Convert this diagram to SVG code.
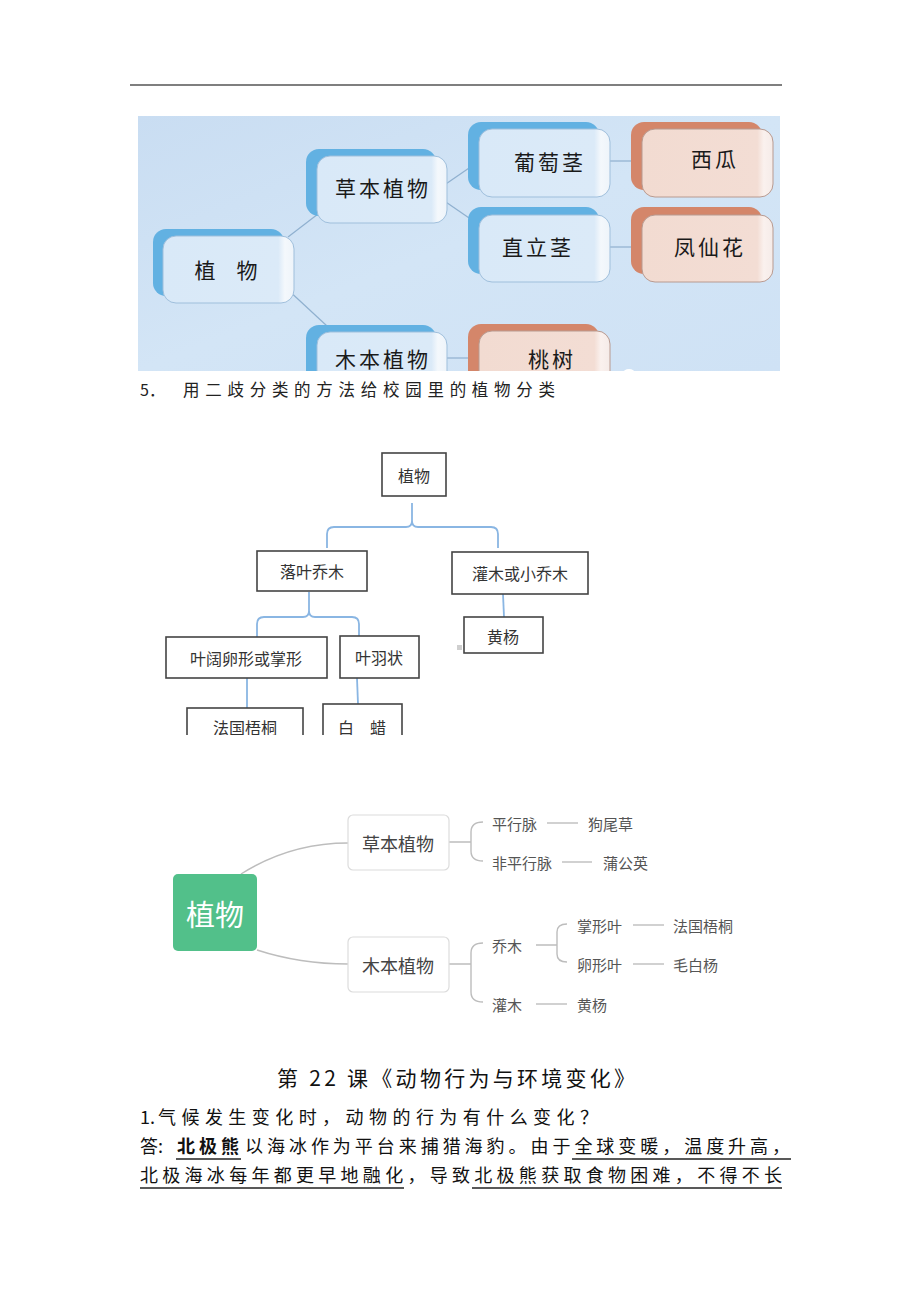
<svg xmlns="http://www.w3.org/2000/svg" width="920" height="1302" viewBox="0 0 920 1302">
<style>
text{font-family:"Noto Sans CJK SC","Noto Sans",sans-serif;}
.t1{font-size:21px;fill:#1a1a1a;text-anchor:middle;dominant-baseline:central;letter-spacing:3px;}
.bsh{fill:#62b1e2;}
.rsh{fill:#d4866a;}
.bface{fill:url(#bface);stroke:#9fbfdc;stroke-width:1;}
.rface{fill:url(#rface);stroke:#b89a90;stroke-width:1;}
.tc{stroke:#8fb0cf;stroke-width:1.2;fill:none;}
.mbox{fill:#fff;stroke:#444;stroke-width:1.6;}
.mt{font-size:16px;fill:#333;text-anchor:middle;dominant-baseline:central;}
.mc{stroke:#8ab6e3;stroke-width:1.8;fill:none;}
.bbox{fill:#fff;stroke:#dcdcdc;stroke-width:1.2;}
.bt{font-size:18px;fill:#444;text-anchor:middle;dominant-baseline:central;}
.st{font-size:15px;fill:#555;dominant-baseline:central;}
.bc{stroke:#bdbdbd;stroke-width:1.4;fill:none;}
.body{font-size:18px;fill:#111;}
.ul{stroke:#222;stroke-width:1.3;}
</style>
<defs>
<linearGradient id="bg" x1="0" y1="0" x2="1" y2="1">
<stop offset="0" stop-color="#c9ddf2"/>
<stop offset="0.5" stop-color="#d3e5f6"/>
<stop offset="1" stop-color="#cfe2f5"/>
</linearGradient>
<linearGradient id="bface" x1="0" y1="0" x2="1" y2="0">
<stop offset="0" stop-color="#d9e9f8"/>
<stop offset="0.88" stop-color="#dbeaf8"/>
<stop offset="0.93" stop-color="#f4f8fc"/>
<stop offset="1" stop-color="#eef4fa"/>
</linearGradient>
<linearGradient id="rface" x1="0" y1="0" x2="1" y2="0">
<stop offset="0" stop-color="#f2dbd1"/>
<stop offset="0.88" stop-color="#f3ddd4"/>
<stop offset="0.93" stop-color="#faf1ee"/>
<stop offset="1" stop-color="#f5ebe8"/>
</linearGradient>
<clipPath id="clipTop"><rect x="138" y="116" width="642" height="255"/></clipPath>
<clipPath id="clipMid"><rect x="140" y="440" width="480" height="295"/></clipPath>
</defs>
<rect width="920" height="1302" fill="#fff"/>
<line x1="130" y1="85" x2="782" y2="85" stroke="#555" stroke-width="1.6"/>

<!-- top diagram -->
<g clip-path="url(#clipTop)">
<rect x="138" y="116" width="642" height="255" fill="url(#bg)"/>
<g id="top-connectors">
<line class="tc" x1="288" y1="237" x2="318" y2="214"/>
<line class="tc" x1="286" y1="288" x2="327" y2="326"/>
<line class="tc" x1="440" y1="188" x2="472" y2="166"/>
<line class="tc" x1="440" y1="198" x2="472" y2="220"/>
<line class="tc" x1="600" y1="161" x2="632" y2="161"/>
<line class="tc" x1="600" y1="247" x2="632" y2="247"/>
<line class="tc" x1="437" y1="358" x2="469" y2="358"/>
</g>
<g id="t-plant"><rect class="bsh" x="153" y="229" width="131" height="67" rx="13"/><rect class="bface" x="163" y="236" width="131" height="67" rx="13"/><text class="t1" x="226" y="269" style="letter-spacing:0">植　物</text></g>
<g id="t-herb"><rect class="bsh" x="306" y="149" width="130" height="67" rx="13"/><rect class="bface" x="317" y="156" width="130" height="67" rx="13"/><text class="t1" x="383" y="187">草本植物</text></g>
<g id="t-vine"><rect class="bsh" x="468" y="122" width="131" height="68" rx="13"/><rect class="bface" x="479" y="129" width="131" height="68" rx="13"/><text class="t1" x="550" y="161">葡萄茎</text></g>
<g id="t-erect"><rect class="bsh" x="468" y="207" width="131" height="67" rx="13"/><rect class="bface" x="479" y="215" width="131" height="67" rx="13"/><text class="t1" x="538" y="246">直立茎</text></g>
<g id="t-melon"><rect class="rsh" x="631" y="122" width="131" height="68" rx="13"/><rect class="rface" x="642" y="129" width="131" height="68" rx="13"/><text class="t1" x="715" y="158">西瓜</text></g>
<g id="t-balsam"><rect class="rsh" x="631" y="207" width="131" height="67" rx="13"/><rect class="rface" x="642" y="215" width="131" height="67" rx="13"/><text class="t1" x="710" y="246">凤仙花</text></g>
<g id="t-wood"><rect class="bsh" x="306" y="325" width="130" height="67" rx="13"/><rect class="bface" x="317" y="332" width="130" height="67" rx="13"/><text class="t1" x="383" y="358">木本植物</text></g>
<g id="t-peach"><rect class="rsh" x="468" y="324" width="131" height="67" rx="13"/><rect class="rface" x="479" y="331" width="131" height="67" rx="13"/><text class="t1" x="552" y="358">桃树</text></g>
<ellipse cx="629" cy="373" rx="6" ry="4" fill="#fff"/>
</g>

<text x="140" y="396" style="font-size:16px;fill:#222">5．</text>
<text x="183" y="396" textLength="372" lengthAdjust="spacing" style="font-size:16.5px;fill:#222">用二歧分类的方法给校园里的植物分类</text>

<!-- middle diagram -->
<g clip-path="url(#clipMid)">
<g id="mid-connectors">
<path class="mc" d="M412,503 L412,521 Q412,527 406,527 L334,527 Q327,527 327,534 L327,548 M412,521 Q412,527 418,527 L491,527 Q498,527 498,534 L498,548"/>
<path class="mc" d="M309,592 L309,611 Q309,617 303,617 L264,617 Q257,617 257,624 L257,637 M309,611 Q309,617 315,617 L352,617 Q359,617 359,624 L359,636"/>
<line class="mc" x1="503" y1="594" x2="504" y2="617"/>
<line class="mc" x1="247" y1="678" x2="247" y2="708"/>
<line class="mc" x1="357" y1="678" x2="358" y2="704"/>
</g>
<g id="m-plant"><rect class="mbox" x="382" y="453" width="64" height="43"/><text class="mt" x="414" y="475">植物</text></g>
<g id="m-decid"><rect class="mbox" x="257" y="551" width="110" height="40"/><text class="mt" x="312" y="571">落叶乔木</text></g>
<g id="m-shrub"><rect class="mbox" x="452" y="552" width="136" height="42"/><text class="mt" x="520" y="573">灌木或小乔木</text></g>
<g id="m-broad"><rect class="mbox" x="166" y="637" width="161" height="41"/><text class="mt" x="246" y="658">叶阔卵形或掌形</text></g>
<g id="m-pinnate"><rect class="mbox" x="340" y="636" width="79" height="42"/><text class="mt" x="379" y="657">叶羽状</text></g>
<g id="m-box"><rect class="mbox" x="464" y="617" width="79" height="36"/><text class="mt" x="503" y="636">黄杨</text></g>
<g id="m-plane"><rect class="mbox" x="187" y="708" width="116" height="40"/><text class="mt" x="245" y="727">法国梧桐</text></g>
<g id="m-ash"><rect class="mbox" x="323" y="704" width="79" height="44"/><text class="mt" x="362" y="727">白　蜡</text></g>
<rect x="457" y="645" width="5" height="5" fill="#cfcfcf"/>
</g>

<!-- bottom mind map -->
<g id="b-connectors">
<path class="bc" d="M241,874 Q290,843 348,843"/>
<path class="bc" d="M257,950 Q300,964 348,964"/>
<path class="bc" d="M449,842 L471,842 M483,822 Q471,822 471,832 L471,851 Q471,861 483,861"/>
<path class="bc" d="M449,964 L471,964 M483,943 Q471,943 471,953 L471,992 Q471,1002 483,1002"/>
<path class="bc" d="M536,945 L557,945 M567,924 Q557,924 557,932 L557,954 Q557,962 567,962"/>
<line class="bc" x1="547" y1="823" x2="578" y2="823"/>
<line class="bc" x1="562" y1="862" x2="592" y2="862"/>
<line class="bc" x1="633" y1="925" x2="664" y2="925"/>
<line class="bc" x1="633" y1="964" x2="664" y2="964"/>
<line class="bc" x1="536" y1="1004" x2="567" y2="1004"/>
</g>
<g id="b-plant"><rect x="173" y="874" width="84" height="77" rx="5" fill="#52c08a"/><text x="215" y="913" style="font-size:29px;fill:#fff;text-anchor:middle;dominant-baseline:central">植物</text></g>
<g id="b-herb"><rect class="bbox" x="348" y="815" width="101" height="55" rx="5"/><text class="bt" x="398" y="843">草本植物</text></g>
<g id="b-wood"><rect class="bbox" x="348" y="937" width="101" height="55" rx="5"/><text class="bt" x="398" y="965">木本植物</text></g>
<g id="b-leaves">
<text class="st" x="492" y="823">平行脉</text>
<text class="st" x="588" y="823">狗尾草</text>
<text class="st" x="492" y="862">非平行脉</text>
<text class="st" x="603" y="862">蒲公英</text>
<text class="st" x="492" y="945">乔木</text>
<text class="st" x="577" y="925">掌形叶</text>
<text class="st" x="673" y="925">法国梧桐</text>
<text class="st" x="577" y="964">卵形叶</text>
<text class="st" x="673" y="964">毛白杨</text>
<text class="st" x="492" y="1004">灌木</text>
<text class="st" x="577" y="1004">黄杨</text>
</g>

<!-- text -->
<text x="277" y="1086" textLength="358" lengthAdjust="spacing" style="font-size:21px;fill:#111;font-weight:400">第 22 课《动物行为与环境变化》</text>
<text class="body" x="140" y="1124">1.</text>
<text class="body" x="158" y="1124" textLength="440" lengthAdjust="spacing">气候发生变化时，动物的行为有什么变化？</text>
<text class="body" x="140" y="1153">答:</text>
<text class="body" x="177" y="1153" textLength="62" lengthAdjust="spacing" style="font-weight:700">北极熊</text>
<text class="body" x="245" y="1153" textLength="545" lengthAdjust="spacing">以海冰作为平台来捕猎海豹。由于全球变暖，温度升高，</text>
<text class="body" x="140" y="1182" textLength="642" lengthAdjust="spacing">北极海冰每年都更早地融化，导致北极熊获取食物困难，不得不长</text>
<g id="underlines">
<line class="ul" x1="176" y1="1159" x2="241" y2="1159"/>
<line class="ul" x1="572" y1="1159" x2="791" y2="1159"/>
<line class="ul" x1="140" y1="1188" x2="404" y2="1188"/>
<line class="ul" x1="472" y1="1188" x2="782" y2="1188"/>
</g>
</svg>
